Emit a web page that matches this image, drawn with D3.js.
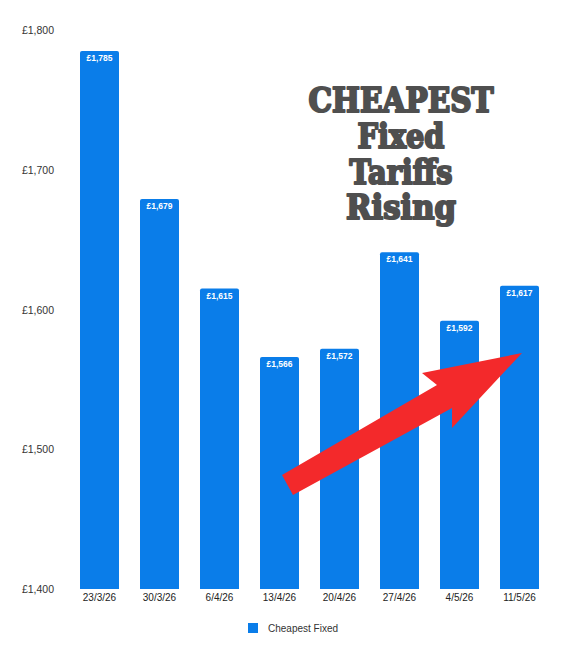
<!DOCTYPE html>
<html>
<head>
<meta charset="utf-8">
<script src="https://cdn.jsdelivr.net/npm/d3@7"></script>
<style>
  html, body { margin: 0; padding: 0; background: #fff; }
  svg { display: block; }
</style>
</head>
<body>
<svg id="chart" width="577" height="656"></svg>
<script>
const categories = ["23/3/26", "30/3/26", "6/4/26", "13/4/26", "20/4/26", "27/4/26", "4/5/26", "11/5/26"];
const values = [1785, 1679, 1615, 1566, 1572, 1641, 1592, 1617];
const yTicks = [1400, 1500, 1600, 1700, 1800];
const seriesName = "Cheapest Fixed";
const titleLines = ["CHEAPEST", "Fixed", "Tariffs", "Rising"];

const svg = d3.select("#chart");
const font = "'Liberation Sans', Arial, Helvetica, sans-serif";
const barColor = "#0a7de9";

const x = d3.scaleBand().domain(categories).range([69.5, 549.5]).paddingInner(0.35).paddingOuter(0.175);
const y = d3.scaleLinear().domain([1400, 1800]).range([589, 30]);

// y axis labels
const yAxis = d3.axisLeft(y).tickValues(yTicks).tickSize(0).tickPadding(0)
  .tickFormat(d => "£" + d3.format(",")(d));
const gy = svg.append("g").attr("transform", "translate(54,0)").call(yAxis);
gy.select(".domain").remove();
gy.selectAll("text").attr("font-family", font).attr("font-size", "10.5px").attr("fill", "#333").attr("dy", "0.34em");

// bars with rounded top corners
const r = 2;
svg.append("g").selectAll("path").data(values).join("path")
  .attr("fill", barColor)
  .attr("d", (d, i) => {
    const x0 = x(categories[i]), w = x.bandwidth(), y0 = y(d), y1 = y(1400);
    return `M${x0},${y1}V${y0 + r}Q${x0},${y0} ${x0 + r},${y0}H${x0 + w - r}Q${x0 + w},${y0} ${x0 + w},${y0 + r}V${y1}Z`;
  });

// bar value labels
svg.append("g").selectAll("text").data(values).join("text")
  .attr("x", (d, i) => x(categories[i]) + x.bandwidth() / 2)
  .attr("y", d => y(d) + 10)
  .attr("text-anchor", "middle")
  .attr("font-family", font).attr("font-size", "8.5px").attr("font-weight", "bold")
  .attr("fill", "#fff")
  .text(d => "£" + d3.format(",")(d));

// x axis labels
const xAxis = d3.axisBottom(x).tickSize(0).tickPadding(0);
const gx = svg.append("g").attr("transform", "translate(0,594)").call(xAxis);
gx.select(".domain").remove();
gx.selectAll("text").attr("font-family", font).attr("font-size", "10px").attr("fill", "#222").attr("dy", "0.71em");

// legend
svg.append("rect").attr("x", 248).attr("y", 623).attr("width", 10).attr("height", 10).attr("fill", barColor);
svg.append("text").attr("x", 268).attr("y", 632).attr("font-family", font).attr("font-size", "10px")
  .attr("fill", "#333").text(seriesName);

// title
const titleWidths = [185, 87, 103, 110];
const titleBase = [112, 148, 184, 219];
svg.append("g").selectAll("text").data(titleLines).join("text")
  .attr("x", 401)
  .attr("y", (d, i) => titleBase[i])
  .attr("text-anchor", "middle")
  .attr("font-family", "'DejaVu Serif', serif")
  .attr("font-weight", "bold")
  .attr("font-size", "33px")
  .attr("fill", "#4f4f4f")
  .attr("stroke", "#4f4f4f").attr("stroke-width", 2.2).attr("stroke-linejoin", "round")
  .attr("textLength", (d, i) => titleWidths[i])
  .attr("lengthAdjust", "spacingAndGlyphs")
  .text(d => d);

// red arrow
const arrowPts = [[282, 475], [437, 385], [422, 373], [522, 353], [452, 428], [452, 408], [293, 495]];
svg.append("path")
  .attr("d", d3.line()(arrowPts) + "Z")
  .attr("fill", "#f3292b");
</script>
</body>
</html>
